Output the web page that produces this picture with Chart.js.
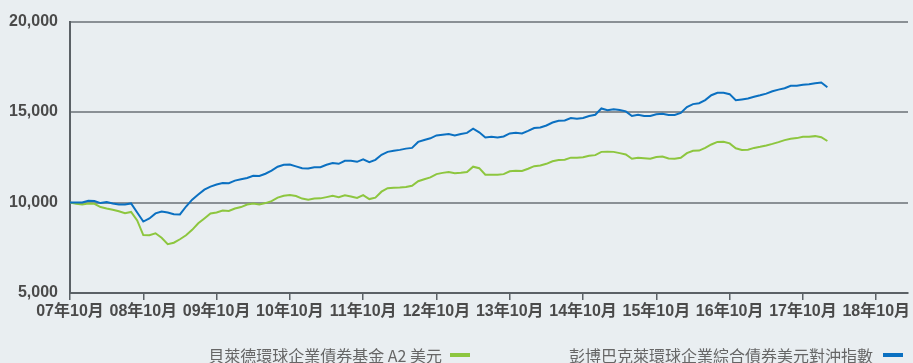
<!DOCTYPE html>
<html>
<head>
<meta charset="utf-8">
<script src="https://cdn.jsdelivr.net/npm/chart.js@4/dist/chart.umd.min.js"></script>
<style>
  html, body { margin: 0; padding: 0; background: #e9eef1; }
  #wrap { position: relative; width: 913px; height: 363px; overflow: hidden; }
  .legend-item {
    position: absolute;
    top: 347px;
    display: flex;
    align-items: center;
    font-family: "Noto Sans CJK TC", "Noto Sans CJK SC", sans-serif;
    font-size: 16px;
    line-height: 16px;
    color: #666;
    white-space: nowrap;
  }
  .legend-item .swatch { width: 20px; height: 4px; }
</style>
</head>
<body>
<div id="wrap">
  <canvas id="growthChart" width="913" height="363"></canvas>
  <div class="legend-item" style="right: 443px;">
    <span>貝萊德環球企業債券基金 A2 美元</span>
    <span class="swatch" style="background:#8dc63f; margin-left:8px;"></span>
  </div>
  <div class="legend-item" style="right: 10px;">
    <span>彭博巴克萊環球企業綜合債券美元對沖指數</span>
    <span class="swatch" style="background:#0b70c1; margin-left:10px;"></span>
  </div>
</div>
<script>
// Growth of 10,000 since Oct 2007, one value per month
const yearLabels = ['07年10月', '08年10月', '09年10月', '10年10月', '11年10月', '12年10月',
  '13年10月', '14年10月', '15年10月', '16年10月', '17年10月', '18年10月'];

const fundValues = [
  10000, 9930, 9890, 9950, 9930, 9750, 9670, 9600, 9520, 9410, 9480, 9010,
  8200, 8190, 8300, 8050, 7700, 7780, 7970, 8190, 8490, 8850, 9120, 9400,
  9450, 9560, 9530, 9670, 9750, 9890, 9950, 9890, 9970, 10080, 10270, 10370,
  10420, 10360, 10220, 10160, 10220, 10230, 10300, 10370, 10300, 10400, 10330, 10250,
  10410, 10190, 10270, 10600, 10790, 10820, 10830, 10860, 10930, 11180, 11290, 11390,
  11570, 11640, 11690, 11620, 11650, 11690, 11980, 11900, 11540, 11540, 11540, 11570,
  11730, 11750, 11740, 11870, 12010, 12050, 12140, 12280, 12350, 12370, 12480, 12470,
  12500, 12580, 12620, 12800, 12810, 12800, 12730, 12660, 12420, 12480, 12450, 12420,
  12520, 12540, 12430, 12420, 12470, 12730, 12860, 12870, 13020, 13210, 13350, 13360,
  13270, 13000, 12910, 12920, 13020, 13080, 13150, 13240, 13340, 13450, 13530, 13560,
  13640, 13640, 13670, 13610, 13400
];

const indexValues = [
  10000, 10000, 10000, 10100, 10080, 9970, 10030, 9950, 9890, 9890, 9950, 9450,
  8950, 9120, 9400, 9500, 9450, 9350, 9340, 9780, 10160, 10440, 10710, 10880,
  11000, 11080, 11070, 11210, 11290, 11360, 11480, 11470, 11590, 11760, 11980, 12090,
  12100, 12000, 11900, 11880, 11950, 11950, 12090, 12180, 12140, 12310, 12310, 12250,
  12390, 12230, 12360, 12640, 12800, 12860, 12910, 12980, 13020, 13350, 13460, 13550,
  13710, 13750, 13790, 13710, 13790, 13850, 14080, 13880, 13600, 13630, 13600, 13650,
  13820, 13850, 13820, 13960, 14120, 14150, 14260, 14420, 14520, 14540, 14670, 14630,
  14670, 14780, 14850, 15200, 15100, 15150, 15110, 15040, 14780, 14850, 14780, 14780,
  14880, 14910, 14840, 14840, 14950, 15280, 15440, 15490, 15660, 15930, 16070, 16070,
  15990, 15650, 15700, 15750, 15850, 15930, 16020, 16150, 16240, 16320, 16450, 16450,
  16510, 16540, 16590, 16630, 16370
];

const yTicks = [5000, 10000, 15000, 20000];

const tickFont = { family: '"Liberation Sans", Arial, "Noto Sans CJK TC"', size: 16, weight: 'bold' };
const axisColor = '#5b6166';

function toPoints(values) {
  return values.map((v, i) => ({ x: i, y: v }));
}

new Chart(document.getElementById('growthChart'), {
  type: 'line',
  data: {
    datasets: [
      {
        label: '彭博巴克萊環球企業綜合債券美元對沖指數',
        data: toPoints(indexValues),
        borderColor: '#0b70c1',
        borderWidth: 2,
        pointRadius: 0,
        tension: 0
      },
      {
        label: '貝萊德環球企業債券基金 A2 美元',
        data: toPoints(fundValues),
        borderColor: '#8dc63f',
        borderWidth: 2,
        pointRadius: 0,
        tension: 0
      }
    ]
  },
  options: {
    responsive: false,
    animation: false,
    layout: { padding: { left: 0, right: 5, top: 20, bottom: 40 } },
    plugins: { legend: { display: false }, tooltip: { enabled: false } },
    scales: {
      x: {
        type: 'linear',
        min: 0,
        max: 137.2,
        afterBuildTicks: function (scale) {
          scale.ticks = yearLabels.map((_, i) => ({ value: i * 12 }));
        },
        afterFit: function (scale) { scale.height = 30; },
        ticks: {
          autoSkip: false,
          maxRotation: 0,
          padding: 2,
          color: '#4a4a4a',
          font: tickFont,
          callback: function (value) { return yearLabels[Math.round(value / 12)]; }
        },
        grid: {
          drawOnChartArea: false,
          drawTicks: true,
          tickLength: 7,
          color: axisColor,
          lineWidth: 1.5
        },
        border: { display: true, color: axisColor, width: 2 }
      },
      y: {
        min: 5000,
        max: 20000,
        afterBuildTicks: function (scale) {
          scale.ticks = yTicks.map(v => ({ value: v }));
        },
        afterFit: function (scale) { scale.width = 70; },
        ticks: {
          padding: 12,
          color: '#4a4a4a',
          font: tickFont,
          callback: function (value) { return value.toLocaleString('en-US'); }
        },
        grid: {
          drawTicks: false,
          color: '#8a9095',
          lineWidth: 2
        },
        border: { display: true, color: axisColor, width: 2 }
      }
    }
  }
});
</script>
</body>
</html>
